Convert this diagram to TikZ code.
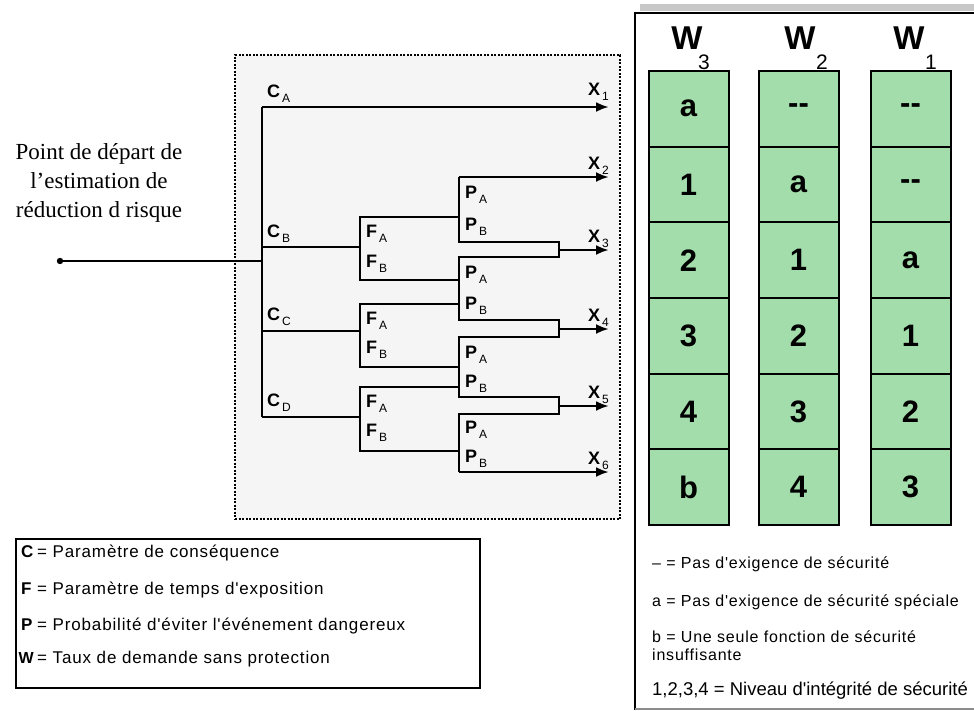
\documentclass[tikz,border=0pt]{standalone}
\usepackage{fontspec}
\newfontfamily\arialf{Liberation Sans}
\newfontfamily\legf[LetterSpace=5]{Liberation Sans}
\newfontfamily\timesf{Liberation Serif}
\usetikzlibrary{arrows.meta}
\definecolor{cellgreen}{RGB}{163,221,171}
\definecolor{panelgray}{RGB}{245,245,245}
\definecolor{bandgray}{RGB}{200,200,200}
\newcommand\tlab[2]{\textbf{#1}\kern2pt\raisebox{-5pt}{\fontsize{12}{12}\selectfont #2}}
\begin{document}
\begin{tikzpicture}[x=1pt,y=-1pt,
  wire/.style={line width=2.6pt},
  arrowwire/.style={line width=2.6pt,-{Latex[length=13pt,width=10pt]}},
  lab/.style={font=\arialf\fontsize{18}{18}\selectfont, inner sep=0pt, anchor=base west},
  xlab/.style={font=\arialf\fontsize{18}{18}\selectfont, inner sep=0pt, anchor=base east},
  cellbox/.style={draw, line width=2pt, fill=cellgreen, minimum width=80pt, minimum height=75.7pt, inner sep=0pt, font=\arialf\bfseries\fontsize{31}{31}\selectfont},
  whead/.style={font=\arialf\bfseries\fontsize{33}{33}\selectfont, inner sep=0pt},
  wsub/.style={font=\arialf\fontsize{21}{21}\selectfont, inner sep=0pt},
  legtext/.style={font=\legf\fontsize{16}{16}\selectfont, inner sep=0pt, anchor=base west},
  panel/.style={draw, line width=2pt, dash pattern=on 2pt off 1.5pt, fill=panelgray, inner sep=0pt}
]
\useasboundingbox (0,0) rectangle (974,710);

% dotted panel
\node[panel, minimum width=385pt, minimum height=464pt] (panel) at (427.5,287) {};

% right frame
\fill[bandgray] (640,4) rectangle (974,11);
\draw[line width=2.5pt] (635,710) -- (635,13) -- (974,13);
\draw[bandgray!70!black, line width=1.2pt] (635,709) -- (974,709);

% left legend box
\node[draw, line width=1.2pt, minimum width=464pt, minimum height=149pt, inner sep=0pt] (legbox) at (248,613.5) {};

% start text
\node[font=\timesf\fontsize{23}{29}\selectfont, align=center, inner sep=0pt] (starttext) at (99,183)
  {Point de départ de\\l’estimation de\\réduction d risque};

% tree coordinates
\coordinate (start) at (60,261);
\coordinate (join) at (262,261);
\coordinate (tA) at (262,107);
\coordinate (tB) at (262,247);
\coordinate (tC) at (262,331);
\coordinate (tD) at (262,417);
\coordinate (fB) at (360,247);
\coordinate (fC) at (360,331);
\coordinate (fD) at (360,417);
\coordinate (fBa) at (360,217);
\coordinate (fBb) at (360,280);
\coordinate (fCa) at (360,304);
\coordinate (fCb) at (360,367);
\coordinate (fDa) at (360,387);
\coordinate (fDb) at (360,451);
\coordinate (pBa) at (459,217);
\coordinate (pBb) at (459,280);
\coordinate (pCa) at (459,304);
\coordinate (pCb) at (459,367);
\coordinate (pDa) at (459,387);
\coordinate (pDb) at (459,451);
\coordinate (g1t) at (459,177);
\coordinate (g1b) at (459,242);
\coordinate (k1a) at (559,242);
\coordinate (k1b) at (559,257);
\coordinate (g2t) at (459,257);
\coordinate (g2b) at (459,320);
\coordinate (k2a) at (559,320);
\coordinate (k2b) at (559,337);
\coordinate (g3t) at (459,337);
\coordinate (g3b) at (459,397);
\coordinate (k3a) at (559,397);
\coordinate (k3b) at (559,414);
\coordinate (g4t) at (459,414);
\coordinate (g4b) at (459,472);
\coordinate (k1m) at (559,250);
\coordinate (k2m) at (559,329);
\coordinate (k3m) at (559,406);
\coordinate (x1) at (609,107);
\coordinate (x2) at (609,177);
\coordinate (x3) at (609,250);
\coordinate (x4) at (609,329);
\coordinate (x5) at (609,406);
\coordinate (x6) at (609,472);

% tree lines
\fill (start) circle (3.2pt);
\draw[wire] (start) -- (join);
\draw[wire] (tA) -- (tD);
\draw[wire] (tB) -- (fB);
\draw[wire] (tC) -- (fC);
\draw[wire] (tD) -- (fD);
\draw[wire] (pBa) -- (fBa) -- (fBb) -- (pBb);
\draw[wire] (pCa) -- (fCa) -- (fCb) -- (pCb);
\draw[wire] (pDa) -- (fDa) -- (fDb) -- (pDb);
\draw[wire] (g1t) -- (g1b) -- (k1a) -- (k1b) -- (g2t) -- (g2b) -- (k2a) -- (k2b) -- (g3t) -- (g3b) -- (k3a) -- (k3b) -- (g4t) -- (g4b);
\draw[arrowwire] (tA) -- (x1);
\draw[arrowwire] (g1t) -- (x2);
\draw[arrowwire] (k1m) -- (x3);
\draw[arrowwire] (k2m) -- (x4);
\draw[arrowwire] (k3m) -- (x5);
\draw[arrowwire] (g4b) -- (x6);

% tree labels
\node[lab] (lCA) at (267,97) {\tlab{C}{A}};
\node[lab] (lCB) at (267,237) {\tlab{C}{B}};
\node[lab] (lCC) at (267,320) {\tlab{C}{C}};
\node[lab] (lCD) at (267,406) {\tlab{C}{D}};
\node[lab] (lFBa) at (366,237) {\tlab{F}{A}};
\node[lab] (lFBb) at (366,267) {\tlab{F}{B}};
\node[lab] (lFCa) at (366,324) {\tlab{F}{A}};
\node[lab] (lFCb) at (366,353) {\tlab{F}{B}};
\node[lab] (lFDa) at (366,407) {\tlab{F}{A}};
\node[lab] (lFDb) at (366,436) {\tlab{F}{B}};
\node[lab] (lP1a) at (465,198) {\tlab{P}{A}};
\node[lab] (lP1b) at (465,230) {\tlab{P}{B}};
\node[lab] (lP2a) at (465,278) {\tlab{P}{A}};
\node[lab] (lP2b) at (465,309) {\tlab{P}{B}};
\node[lab] (lP3a) at (465,358) {\tlab{P}{A}};
\node[lab] (lP3b) at (465,387) {\tlab{P}{B}};
\node[lab] (lP4a) at (465,433) {\tlab{P}{A}};
\node[lab] (lP4b) at (465,462) {\tlab{P}{B}};
\node[xlab] (lx1) at (609,95) {\tlab{X}{1}};
\node[xlab] (lx2) at (609,169) {\tlab{X}{2}};
\node[xlab] (lx3) at (609,242) {\tlab{X}{3}};
\node[xlab] (lx4) at (609,321) {\tlab{X}{4}};
\node[xlab] (lx5) at (609,398) {\tlab{X}{5}};
\node[xlab] (lx6) at (609,464) {\tlab{X}{6}};

% W columns
\foreach \col/\cx/\a/\b/\c/\d/\e/\f in {3/688.5/a/1/2/3/4/b, 2/798.5/-{}-/a/1/2/3/4, 1/910.5/-{}-/-{}-/a/1/2/3}{
  \node[cellbox] (w\col r1) at (\cx,108.8) {\a};
  \node[cellbox] (w\col r2) at (\cx,184.5) {\b};
  \node[cellbox] (w\col r3) at (\cx,260.2) {\c};
  \node[cellbox] (w\col r4) at (\cx,335.8) {\d};
  \node[cellbox] (w\col r5) at (\cx,411.5) {\e};
  \node[cellbox] (w\col r6) at (\cx,487.2) {\f};
}
\node[whead] (hw3) at (687,38) {W};
\node[whead] (hw2) at (800,38) {W};
\node[whead] (hw1) at (909,38) {W};
\node[wsub] (hs3) at (704,62) {3};
\node[wsub] (hs2) at (822,62) {2};
\node[wsub] (hs1) at (931,62) {1};

% right legend
\node[legtext] (r1) at (652,568) {– = Pas d'exigence de sécurité};
\node[legtext] (r2) at (652,606) {a = Pas d'exigence de sécurité spéciale};
\node[legtext] (r3) at (652,642) {b = Une seule fonction de sécurité};
\node[legtext] (r4) at (652,660) {insuffisante};
\node[font=\arialf\fontsize{18.5}{18.5}\selectfont, inner sep=0pt, anchor=base west] (r5) at (652,695) {1,2,3,4 = Niveau d'intégrité de sécurité};

% left legend
\node[legtext, font=\arialf\bfseries\fontsize{17}{17}\selectfont] (lc) at (21,557) {C};
\node[legtext, font=\arialf\bfseries\fontsize{17}{17}\selectfont] (lf) at (21,594) {F};
\node[legtext, font=\arialf\bfseries\fontsize{17}{17}\selectfont] (lp) at (21,630) {P};
\node[legtext, font=\arialf\bfseries\fontsize{16}{16}\selectfont] (lw) at (18.5,663) {W};
\node[legtext, font=\legf\fontsize{17}{17}\selectfont] (tc) at (37,557) {= Paramètre de conséquence};
\node[legtext, font=\legf\fontsize{17}{17}\selectfont] (tf) at (37,594) {= Paramètre de temps d'exposition};
\node[legtext, font=\legf\fontsize{17}{17}\selectfont] (tp) at (37,630) {= Probabilité d'éviter l'événement dangereux};
\node[legtext, font=\legf\fontsize{17}{17}\selectfont] (tw) at (37,663) {= Taux de demande sans protection};
\end{tikzpicture}
\end{document}
